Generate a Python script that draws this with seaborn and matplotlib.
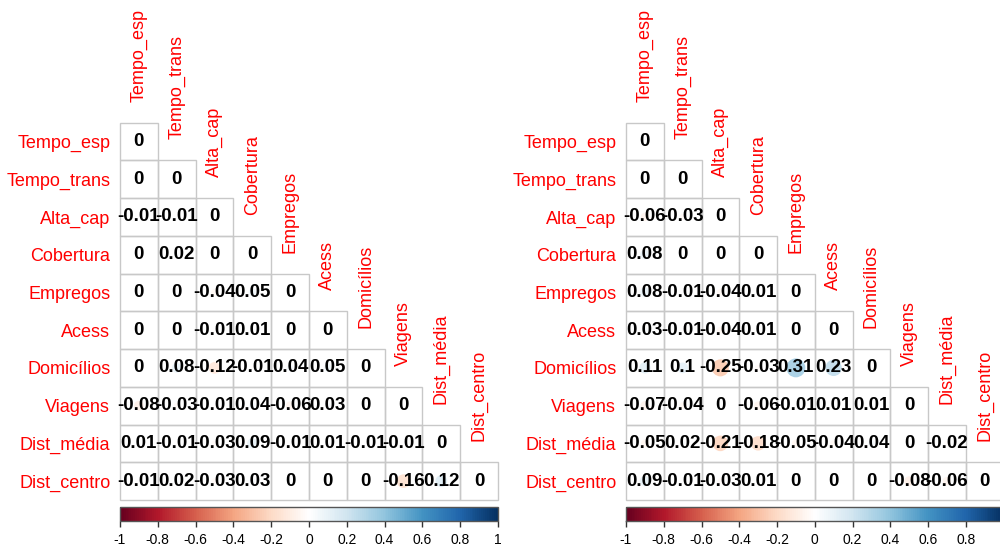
import numpy as np
import pandas as pd
import matplotlib
matplotlib.use("Agg")
import matplotlib.pyplot as plt
import seaborn as sns
from matplotlib.colors import LinearSegmentedColormap, ListedColormap, Normalize
from matplotlib.patches import Circle, Rectangle
import matplotlib.cm as mcm

# ---------------- data ----------------
variables = ["Tempo_esp", "Tempo_trans", "Alta_cap", "Cobertura", "Empregos",
             "Acess", "Domicílios", "Viagens", "Dist_média", "Dist_centro"]

left_rows = [
    [0],
    [0, 0],
    [-0.01, -0.01, 0],
    [0, 0.02, 0, 0],
    [0, 0, -0.04, 0.05, 0],
    [0, 0, -0.01, 0.01, 0, 0],
    [0, 0.08, -0.12, -0.01, 0.04, 0.05, 0],
    [-0.08, -0.03, -0.01, 0.04, -0.06, 0.03, 0, 0],
    [0.01, -0.01, -0.03, 0.09, -0.01, 0.01, -0.01, -0.01, 0],
    [-0.01, 0.02, -0.03, 0.03, 0, 0, 0, -0.16, 0.12, 0],
]

right_rows = [
    [0],
    [0, 0],
    [-0.06, -0.03, 0],
    [0.08, 0, 0, 0],
    [0.08, -0.01, -0.04, 0.01, 0],
    [0.03, -0.01, -0.04, 0.01, 0, 0],
    [0.11, 0.1, -0.25, -0.03, 0.31, 0.23, 0],
    [-0.07, -0.04, 0, -0.06, -0.01, 0.01, 0.01, 0],
    [-0.05, 0.02, -0.21, -0.18, -0.05, -0.04, 0.04, 0, -0.02],
    [0.09, -0.01, -0.03, 0.01, 0, 0, 0, -0.08, -0.06, 0],
]

cbar_ticks = [-1, -0.8, -0.6, -0.4, -0.2, 0, 0.2, 0.4, 0.6, 0.8, 1]

# ---------------- style ----------------
sns.set_theme(style="white")
plt.rcParams['font.family'] = ['Liberation Sans', 'DejaVu Sans']

cmap = LinearSegmentedColormap.from_list(
    "corrRdBu",
    ["#67001F", "#B2182B", "#D6604D", "#F4A582", "#FDDBC7", "#FFFFFF",
     "#D1E5F0", "#92C5DE", "#4393C3", "#2166AC", "#053061"], N=200)
norm = Normalize(-1, 1)

W, H = 1000, 547


def px(x0, y0, x1, y1):
    return [x0 / W, 1 - y1 / H, (x1 - x0) / W, (y1 - y0) / H]


def to_frame(rows):
    n = len(variables)
    m = np.full((n, n), np.nan)
    for i, r in enumerate(rows):
        m[i, :len(r)] = r
    return pd.DataFrame(m, index=variables, columns=variables)


fig = plt.figure(figsize=(W / 100, H / 100), dpi=100)

panels = [(left_rows, 120, 498), (right_rows, 626, 1003.5)]
n = len(variables)
for rows, x0, x1 in panels:
    df = to_frame(rows)
    mask = np.triu(np.ones((n, n), dtype=bool), k=1)
    annot = np.array([["" if np.isnan(v) else f"{v:g}" for v in row] for row in df.values])
    ax = fig.add_axes(px(x0, 122.5, x1, 500))
    sns.heatmap(df.fillna(0), mask=mask, cmap=ListedColormap(["white"]), cbar=False,
                annot=annot, fmt="",
                annot_kws=dict(color="black", fontweight="bold", fontsize=13.5),
                linewidths=0, xticklabels=False, yticklabels=False, ax=ax)
    # cell borders and circles (lower triangle only)
    for i in range(n):
        for j in range(i + 1):
            ax.add_patch(Rectangle((j, i), 1, 1, facecolor="none", edgecolor="#C8C8C8",
                                   linewidth=1, zorder=1.5, clip_on=False))
            v = df.iat[i, j]
            if v != 0:
                ax.add_patch(Circle((j + 0.5, i + 0.5), 0.45 * np.sqrt(abs(v)),
                                    facecolor=cmap(norm(v)), edgecolor="none", zorder=2))
    ax.set_yticks(np.arange(n) + 0.5)
    ax.set_yticklabels(variables, rotation=0, color="red", fontsize=13)
    ax.tick_params(axis="y", length=0, pad=7, left=False)
    for j, name in enumerate(variables):
        ax.text(j + 0.5, j - 0.55, name, rotation=90, ha="center", va="bottom",
                color="red", fontsize=13, clip_on=False)

    cax = fig.add_axes(px(x0, 507, x1, 521))
    cb = fig.colorbar(mcm.ScalarMappable(norm=norm, cmap=cmap), cax=cax,
                      orientation="horizontal", ticks=cbar_ticks)
    cb.set_ticklabels([f"{t:g}" for t in cbar_ticks])
    cb.outline.set_edgecolor("#555555")
    cb.outline.set_linewidth(1)
    cax.tick_params(axis="x", bottom=True, length=4, width=1, color="#333333",
                    labelsize=10, labelcolor="black", pad=5, direction="out")

fig.savefig("out.png", dpi=100)
